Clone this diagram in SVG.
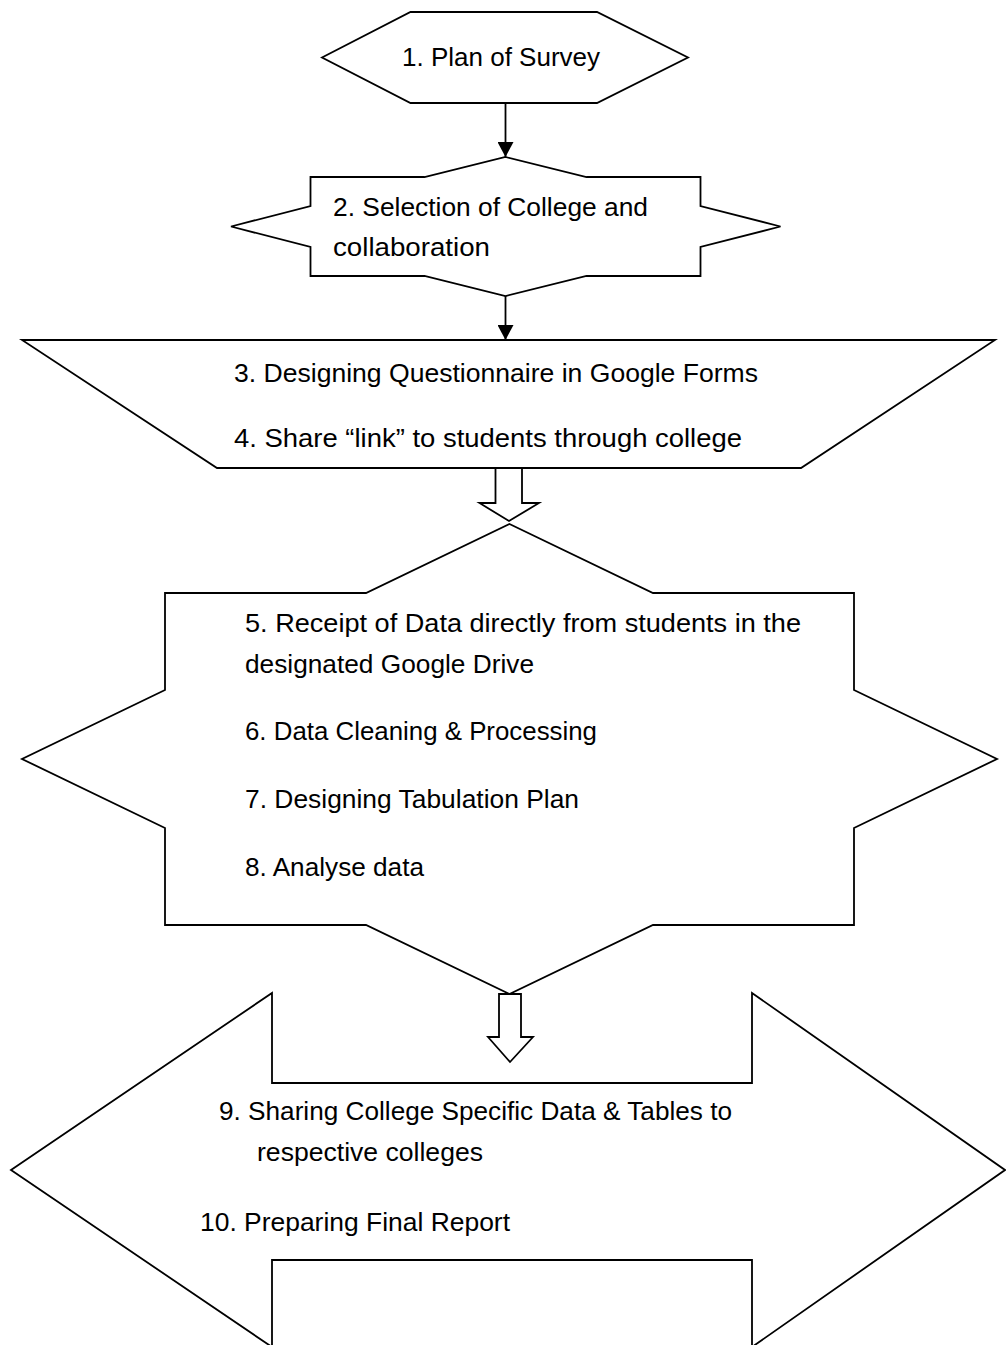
<svg xmlns="http://www.w3.org/2000/svg" width="1006" height="1345" viewBox="0 0 1006 1345">
  <style>
    .shape { fill: #ffffff; stroke: #000000; stroke-width: 1.8; stroke-linejoin: miter; }
    .lbl { font-family: "Liberation Sans", Arial, sans-serif; font-size: 26px; fill: #000000; }
    .conn { stroke: #000000; stroke-width: 1.8; fill: none; }
  </style>
  <defs>
    <marker id="arrow" viewBox="0 0 15 16" refX="15" refY="8" markerWidth="15" markerHeight="16" markerUnits="userSpaceOnUse" orient="auto">
      <path d="M0,0 L15,8 L0,16 Z" fill="#000000"/>
    </marker>
  </defs>
  <rect x="0" y="0" width="1006" height="1345" fill="#ffffff"/>

  <g id="node1">
    <polygon class="shape" points="322,57.5 410.5,12 597,12 688,57.5 597,103 410.5,103"/>
    <text class="lbl" x="402" y="66" textLength="198" lengthAdjust="spacingAndGlyphs">1. Plan of Survey</text>
  </g>

  <g id="node2">
    <polygon class="shape" points="505.5,157 586.5,177 700.5,177 700.5,206 780.5,226.5 700.5,247 700.5,276 586.5,276 505.5,296 424.5,276 310.5,276 310.5,247 231,226.5 310.5,206 310.5,177 424.5,177"/>
    <text class="lbl" x="333" y="216" textLength="315" lengthAdjust="spacingAndGlyphs">2. Selection of College and</text>
    <text class="lbl" x="333" y="256" textLength="157" lengthAdjust="spacingAndGlyphs">collaboration</text>
  </g>

  <g id="node3">
    <polygon class="shape" points="22,340 995,340 801,468 217,468"/>
    <text class="lbl" x="234" y="382" textLength="524" lengthAdjust="spacingAndGlyphs">3. Designing Questionnaire in Google Forms</text>
    <text class="lbl" x="234" y="447" textLength="508" lengthAdjust="spacingAndGlyphs">4. Share “link” to students through college</text>
  </g>

  <g id="node5">
    <polygon class="shape" points="509.5,524 653,593 854,593 854,690 997,759 854,828 854,925 653,925 509.5,994 366,925 165,925 165,828 22,759 165,690 165,593 366,593"/>
    <text class="lbl" x="245" y="632" textLength="556" lengthAdjust="spacingAndGlyphs">5. Receipt of Data directly from students in the</text>
    <text class="lbl" x="245" y="673" textLength="289" lengthAdjust="spacingAndGlyphs">designated Google Drive</text>
    <text class="lbl" x="245" y="740" textLength="352" lengthAdjust="spacingAndGlyphs">6. Data Cleaning &amp; Processing</text>
    <text class="lbl" x="245" y="808" textLength="334" lengthAdjust="spacingAndGlyphs">7. Designing Tabulation Plan</text>
    <text class="lbl" x="245" y="876" textLength="179" lengthAdjust="spacingAndGlyphs">8. Analyse data</text>
  </g>

  <g id="node9">
    <polygon class="shape" points="11,1170 272,993 272,1083 752,1083 752,993 1005,1170 752,1347 752,1260 272,1260 272,1347"/>
    <text class="lbl" x="219" y="1120" textLength="513" lengthAdjust="spacingAndGlyphs">9. Sharing College Specific Data &amp; Tables to</text>
    <text class="lbl" x="257" y="1161" textLength="226" lengthAdjust="spacingAndGlyphs">respective colleges</text>
    <text class="lbl" x="200" y="1231" textLength="310" lengthAdjust="spacingAndGlyphs">10. Preparing Final Report</text>
  </g>

  <g id="connectors">
    <line class="conn" x1="505.5" y1="103" x2="505.5" y2="157" marker-end="url(#arrow)"/>
    <line class="conn" x1="505.5" y1="296" x2="505.5" y2="340" marker-end="url(#arrow)"/>
    <polygon class="shape" points="495.5,468 522,468 522,503 539,503 509,521 479.5,503 495.5,503"/>
    <polygon class="shape" points="499,994 521,994 521,1037 533,1037 510,1062 488,1037 499,1037"/>
  </g>
</svg>
